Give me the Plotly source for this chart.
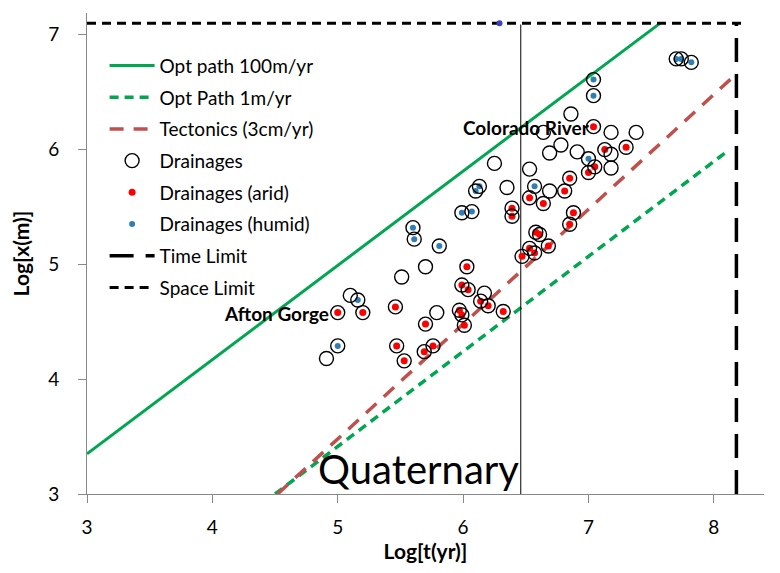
import plotly.graph_objects as go

# optimal path / tectonics reference lines (log t, log x)
opt100_t = [3.0, 7.57]
opt100_x = [3.35, 7.1]
opt1_t = [4.50, 8.10]
opt1_x = [3.0, 5.98]
tecto_t = [4.52, 8.16]
tecto_x = [3.0, 6.64]

# limits
time_limit_t = [8.18, 8.18]
time_limit_x = [3.0, 7.1]
space_limit_t = [3.0, 8.25]
space_limit_x = [7.1, 7.1]
quaternary_t = [6.46, 6.46]
quaternary_x = [3.0, 7.09]

# drainages without a climate tag (open circles only)
open_t = [6.25, 6.35, 6.53, 6.69, 6.69, 6.78, 5.70, 5.51, 6.17, 5.79,
          5.10, 4.91, 6.86, 6.64, 7.18, 7.38, 7.18, 6.91, 7.18]
open_x = [5.88, 5.67, 5.83, 5.64, 5.97, 6.04, 4.98, 4.89, 4.75, 4.58,
          4.73, 4.18, 6.31, 6.15, 6.15, 6.15, 5.96, 5.98, 5.84]

# arid drainages
arid_t = [6.39, 6.39, 6.53, 6.64, 6.85, 6.81, 6.88, 6.85, 6.58, 6.61,
          6.68, 6.53, 6.57, 6.47, 6.03, 5.99, 6.04, 6.14, 6.20, 5.97,
          5.99, 6.01, 6.32, 5.46, 5.70, 5.47, 5.53, 5.69, 5.76, 5.20,
          5.00, 7.04, 7.13, 7.30, 7.05, 7.00]
arid_x = [5.49, 5.42, 5.58, 5.53, 5.75, 5.64, 5.45, 5.35, 5.28, 5.26,
          5.16, 5.14, 5.10, 5.07, 4.98, 4.82, 4.78, 4.68, 4.64, 4.60,
          4.56, 4.47, 4.59, 4.63, 4.48, 4.29, 4.16, 4.24, 4.29, 4.58,
          4.58, 6.20, 6.00, 6.02, 5.85, 5.80]

# humid drainages
humid_t = [6.13, 6.10, 6.07, 5.99, 6.57, 5.60, 5.61, 5.81, 5.16, 5.00,
           7.70, 7.74, 7.82, 7.04, 7.04, 7.00]
humid_x = [5.68, 5.64, 5.46, 5.45, 5.68, 5.32, 5.22, 5.16, 4.69, 4.29,
           6.79, 6.79, 6.76, 6.61, 6.47, 5.92]
# lone humid dot sitting on the space limit
humid_top_t = [6.29]
humid_top_x = [7.1]

GREEN = '#00A650'
BROWN = '#C0504D'
HUMID = '#2F7FB5'
FONT = 'Lato'

fig = go.Figure()

fig.add_trace(go.Scatter(
    x=opt100_t, y=opt100_x, mode='lines', name='Opt path 100m/yr',
    line=dict(color=GREEN, width=3), legendgroup='a'
))
fig.add_trace(go.Scatter(
    x=opt1_t, y=opt1_x, mode='lines', name='Opt Path 1m/yr',
    line=dict(color=GREEN, width=3.5, dash='9px,6px'), legendgroup='b'
))
fig.add_trace(go.Scatter(
    x=tecto_t, y=tecto_x, mode='lines', name='Tectonics (3cm/yr)',
    line=dict(color=BROWN, width=3.5, dash='14px,10px'), legendgroup='c'
))

fig.add_trace(go.Scatter(
    x=quaternary_t, y=quaternary_x, mode='lines', showlegend=False,
    line=dict(color='black', width=1), hoverinfo='skip'
))

fig.add_trace(go.Scatter(
    x=arid_t, y=arid_x, mode='markers', showlegend=False,
    marker=dict(color='#FF0000', size=7), legendgroup='e'
))
fig.add_trace(go.Scatter(
    x=humid_t, y=humid_x, mode='markers',
    showlegend=False, marker=dict(color=HUMID, size=6), legendgroup='f'
))
fig.add_trace(go.Scatter(
    x=open_t + arid_t + humid_t, y=open_x + arid_x + humid_x,
    mode='markers', name='Drainages', legendgroup='d',
    marker=dict(symbol='circle-open', size=14, color='black', line=dict(width=1.4))
))
# legend entries for the dots
fig.add_trace(go.Scatter(
    x=[None], y=[None], mode='markers', name='Drainages (arid)',
    marker=dict(color='#FF0000', size=7), legendgroup='e'
))
fig.add_trace(go.Scatter(
    x=[None], y=[None], mode='markers', name='Drainages (humid)',
    marker=dict(color=HUMID, size=6), legendgroup='f'
))

fig.add_trace(go.Scatter(
    x=time_limit_t, y=time_limit_x, mode='lines', name='Time Limit',
    line=dict(color='black', width=3.5, dash='24px,12px'), legendgroup='g'
))
fig.add_trace(go.Scatter(
    x=space_limit_t, y=space_limit_x, mode='lines', name='Space Limit',
    line=dict(color='black', width=3, dash='9px,6px'), legendgroup='h'
))
# the dot on the space limit is drawn over the dashed line
fig.add_trace(go.Scatter(
    x=humid_top_t, y=humid_top_x, mode='markers', showlegend=False,
    marker=dict(color='#3B3FC0', size=6), legendgroup='f'
))

fig.add_annotation(
    x=6.45, y=3.0, xref='x', yref='y', text='Quaternary', showarrow=False,
    xanchor='right', yanchor='bottom', borderpad=0,
    font=dict(family=FONT, size=40, color='black')
)
fig.add_annotation(
    x=6.505, y=6.19, xref='x', yref='y', text='<b>Colorado River</b>',
    showarrow=False, font=dict(family=FONT, size=19, color='black')
)
fig.add_annotation(
    x=4.95, y=4.57, xref='x', yref='y', text='<b>Afton Gorge</b>',
    showarrow=False, xanchor='right',
    font=dict(family=FONT, size=19, color='black')
)

axis_style = dict(
    showgrid=False, zeroline=False, showline=True, linecolor='#888888',
    linewidth=1, ticks='outside', tickcolor='#888888', ticklen=8,
    dtick=1, automargin=False,
    tickfont=dict(family=FONT, size=19, color='black'),
)

fig.update_layout(
    width=780,
    height=573,
    # the page adds an 8px body margin, so the plot area is shifted back here
    margin=dict(l=79, r=24, t=5, b=87),
    plot_bgcolor='white',
    paper_bgcolor='white',
    font=dict(family=FONT, color='black'),
    showlegend=True,
    legend=dict(
        x=0.026, y=0.93, xanchor='left', yanchor='top',
        traceorder='grouped', tracegroupgap=4, itemwidth=45,
        bgcolor='rgba(0,0,0,0)',
        font=dict(family=FONT, size=19, color='black'),
    ),
    xaxis=dict(
        range=[3, 8.40], tick0=3,
        title=dict(text='<b>Log[t(yr)]</b>', font=dict(family=FONT, size=21), standoff=7),
        ticklabelstandoff=8, **axis_style
    ),
    yaxis=dict(
        range=[3, 7.19], tick0=3,
        title=dict(text='<b>Log[x(m)]</b>', font=dict(family=FONT, size=21), standoff=23),
        ticklabelstandoff=15, **axis_style
    ),
)

fig.write_html("out.html")
